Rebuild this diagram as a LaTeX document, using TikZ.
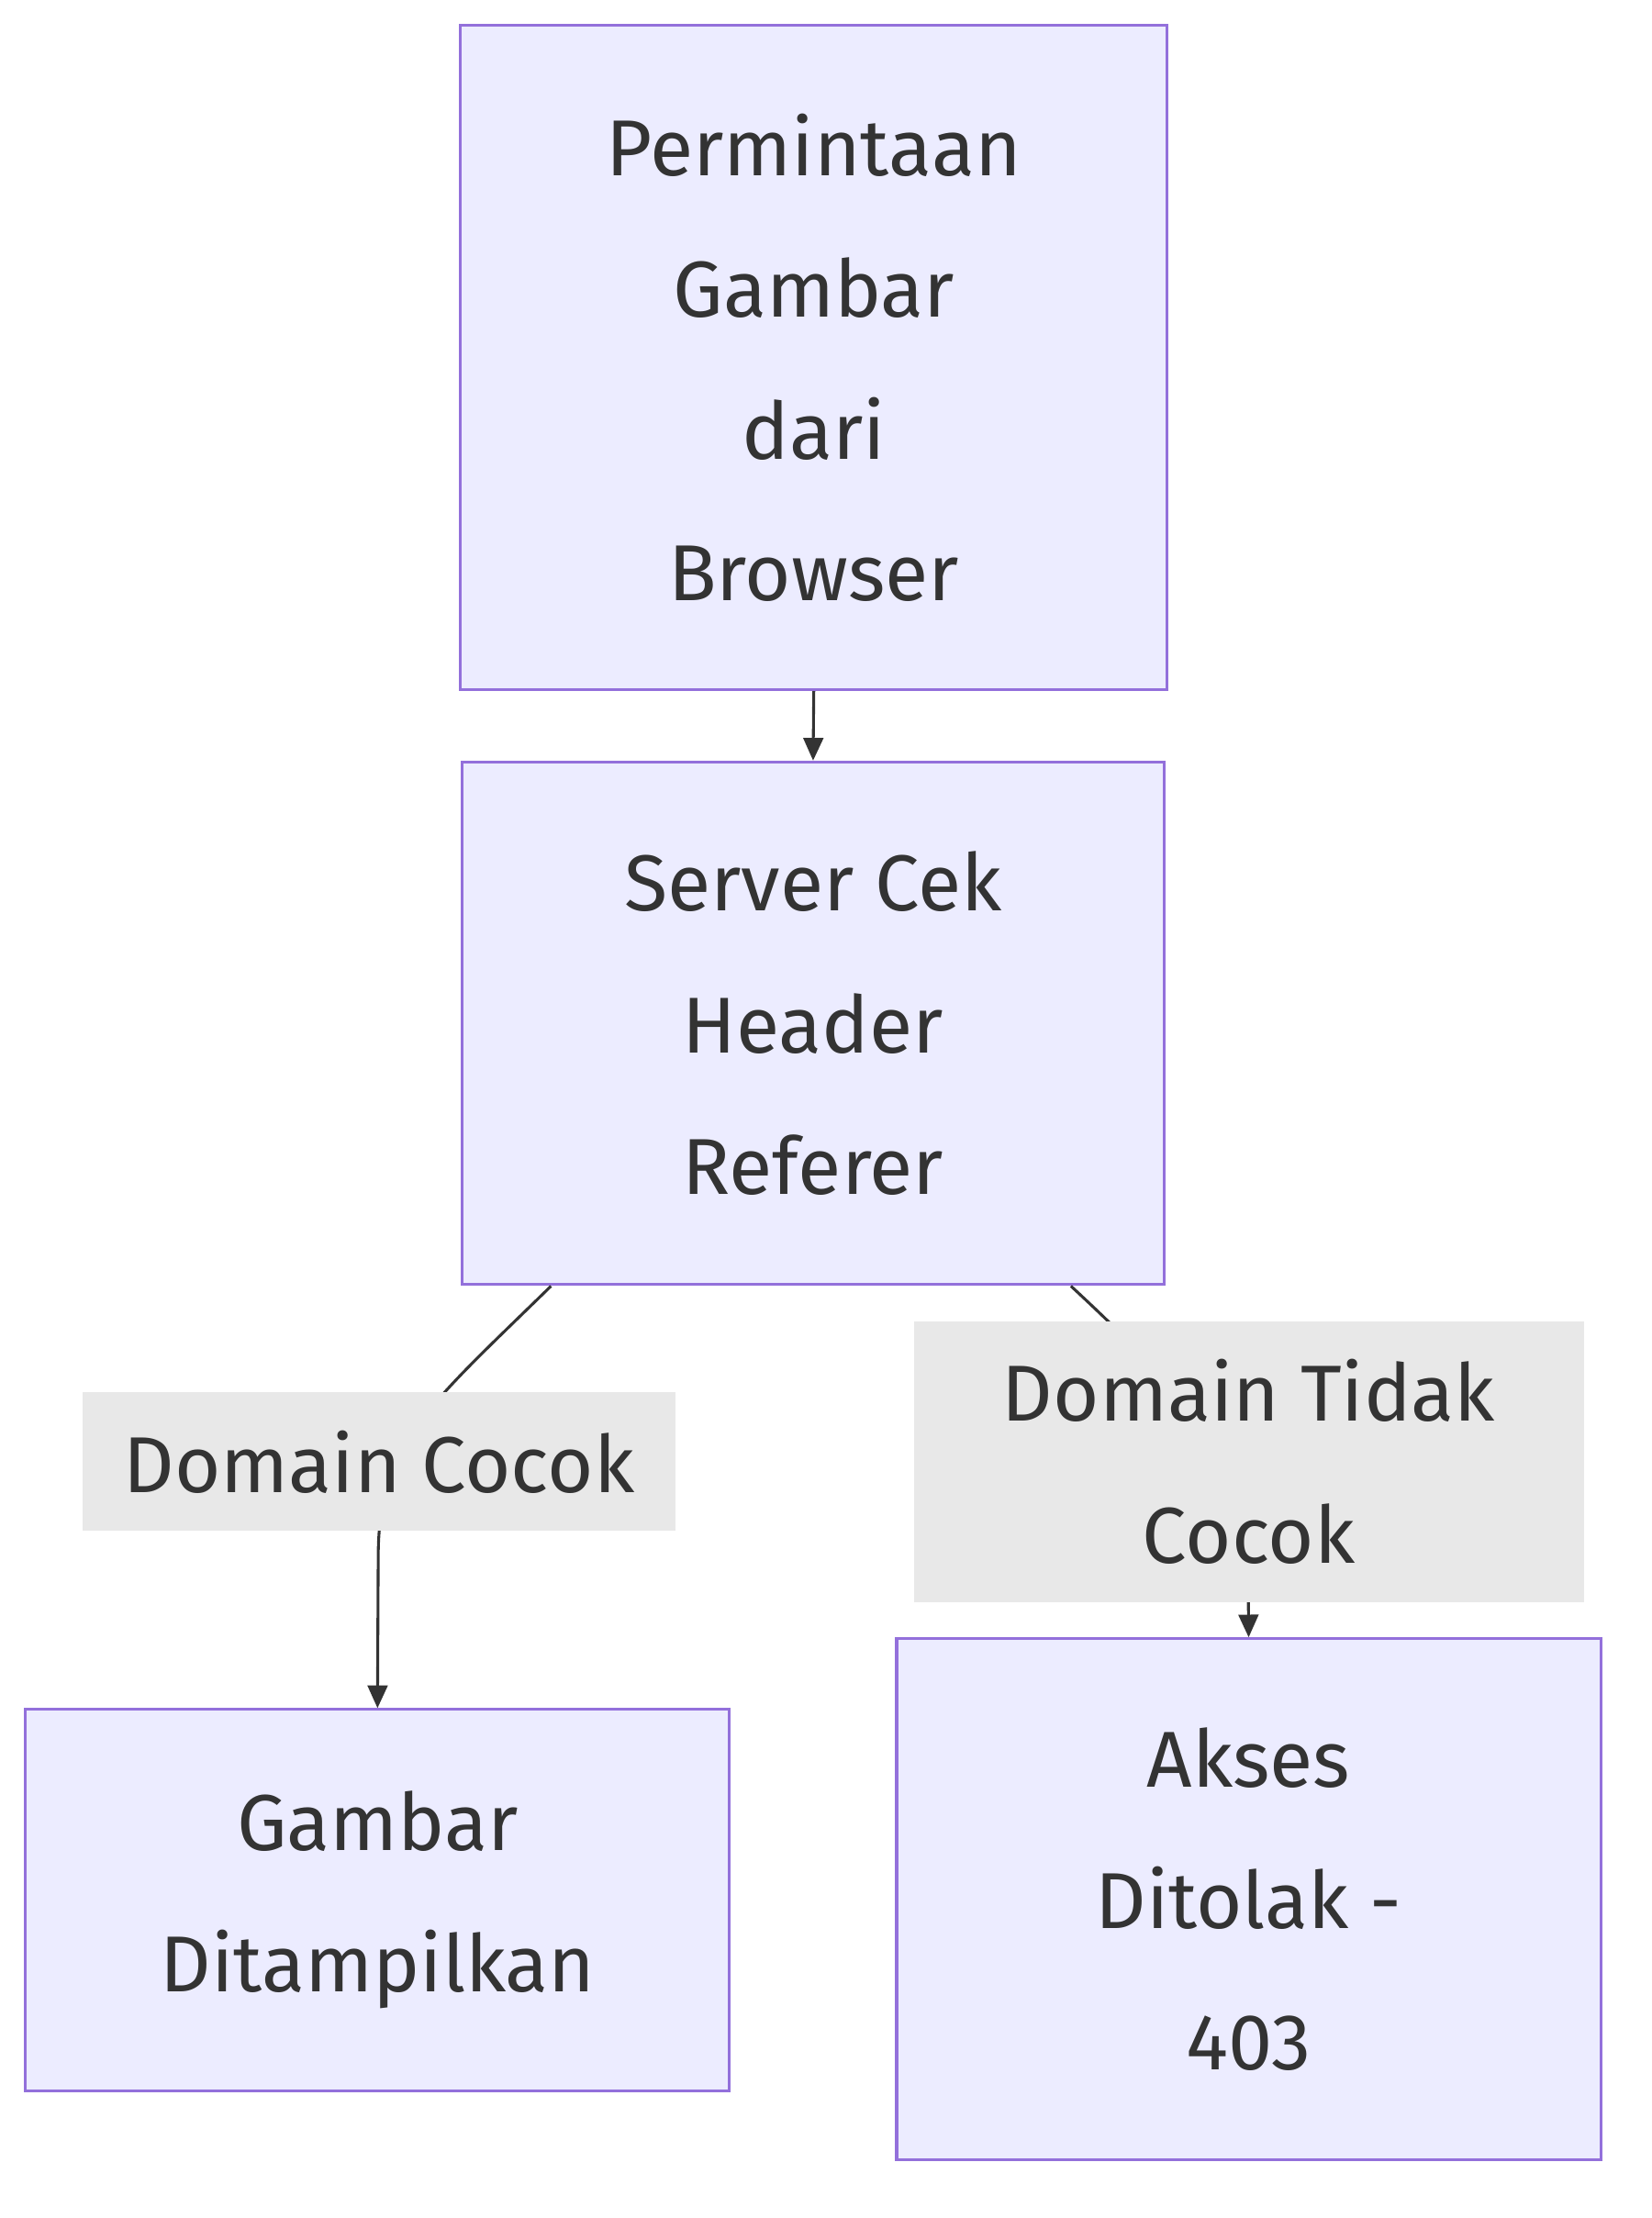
\documentclass[tikz,border=0pt]{standalone}
\usepackage{fontspec}
\setmainfont{Fira Sans}
\usetikzlibrary{calc,arrows.meta}
\definecolor{boxfill}{HTML}{ECECFF}
\definecolor{boxline}{HTML}{9370DB}
\definecolor{txt}{HTML}{333333}
\definecolor{lbl}{HTML}{E8E8E8}
\begin{document}
\begin{tikzpicture}[x=0.5pt,y=-0.5pt,
  box/.style={draw=boxline,fill=boxfill,line width=1pt,inner sep=0pt,text=txt,align=center,font=\fontsize{28}{50}\selectfont},
  lab/.style={fill=lbl,inner sep=0pt,text=txt,align=center,font=\fontsize{28}{50}\selectfont},
  edge/.style={draw=txt,line width=1pt,-{Triangle[length=8pt,width=7pt]}}]
\useasboundingbox (0,0) rectangle (1166,1566);
\node[box,minimum width=249.5pt,minimum height=234.5pt] (A) at (574.5,252.5) {Permintaan\\Gambar\\dari\\Browser};
\node[box,minimum width=248pt,minimum height=184.5pt] (B) at (574,722.5) {Server Cek\\Header\\Referer};
\node[box,minimum width=248.5pt,minimum height=134.5pt] (C) at (266.5,1341.5) {Gambar\\Ditampilkan};
\node[box,minimum width=248.5pt,minimum height=184pt] (D) at (881.5,1341) {Akses\\Ditolak -\\403};
\draw[edge] (A.south) -- (B.north);
\coordinate (b1) at ($(B.south west)+(64,0)$);
\coordinate (b2) at ($(B.south west)+(431,0)$);
\draw[edge] (b1) .. controls (300,995) and (267,1020) .. (267,1100) -- (C.north);
\draw[edge] (b2) .. controls (850,995) and (881,1040) .. (881,1100) -- (D.north);
\node[lab,minimum width=209.5pt,minimum height=49pt] (L1) at (267.5,1032) {Domain Cocok};
\node[lab,minimum width=236.5pt,minimum height=99pt] (L2) at (881.5,1032) {Domain Tidak\\Cocok};
\end{tikzpicture}
\end{document}
